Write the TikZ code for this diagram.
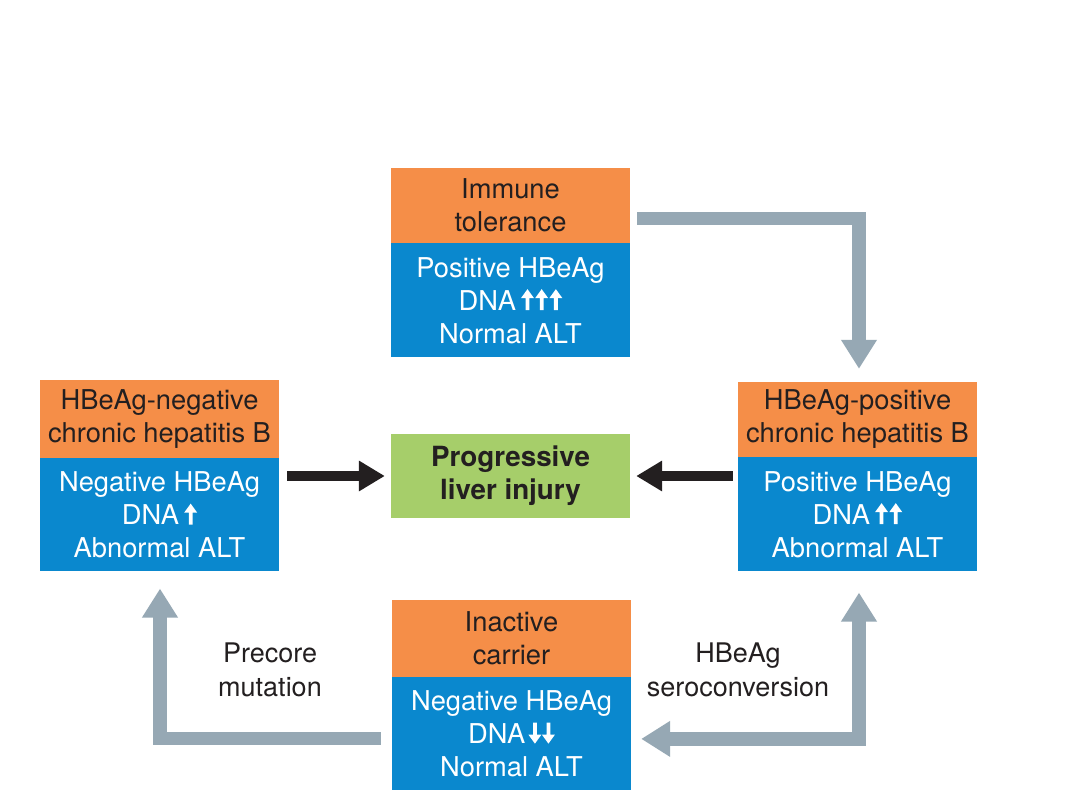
\documentclass[tikz,border=0pt]{standalone}
\usepackage{fontspec}
\setmainfont{TeX Gyre Heros}
\usetikzlibrary{arrows.meta,calc}
\definecolor{hdr}{RGB}{245,142,72}
\definecolor{bdy}{RGB}{10,136,206}
\definecolor{grn}{RGB}{166,206,106}
\definecolor{gry}{RGB}{150,168,180}
\definecolor{ink}{RGB}{35,31,32}
\newcommand{\upA}{\tikz[baseline=0pt,x=1pt,y=1pt]\fill[white] (-1.9,0) -- (-1.9,12) -- (-6.5,12) -- (0,21) -- (6.5,12) -- (1.9,12) -- (1.9,0) -- cycle;}
\newcommand{\dnA}{\tikz[baseline=0pt,x=1pt,y=1pt]\fill[white] (-1.9,21) -- (-1.9,9) -- (-6.5,9) -- (0,0) -- (6.5,9) -- (1.9,9) -- (1.9,21) -- cycle;}
\tikzset{
  basebox/.style={inner sep=0pt, minimum width=239pt, align=center, font=\fontsize{27.3}{33}\selectfont},
  hdrbox/.style={basebox, fill=hdr, text=ink},
  bdybox/.style={basebox, fill=bdy, text=white},
  grnbox/.style={basebox, fill=grn, text=ink, font=\fontsize{27.8}{33}\selectfont\bfseries},
  lbl/.style={align=center, text=ink, font=\fontsize{27}{34}\selectfont},
  grayarrow/.style={draw=gry, line width=13.5pt, line join=miter, line cap=butt, -{Triangle[width=34pt,length=29pt]}},
  grayboth/.style={draw=gry, line width=13.5pt, line join=miter, line cap=butt, {Triangle[width=34pt,length=29pt]}-{Triangle[width=34pt,length=29pt]}},
  blkarrow/.style={draw=ink, line width=10pt, -{Triangle[width=29pt,length=26pt]}}
}
\begin{document}
\begin{tikzpicture}[x=1pt,y=-1pt]
\useasboundingbox[fill=white] (0,0) rectangle (1080,810);
% top box
\node[hdrbox, minimum height=75pt] (thead) at (510.5,205.5) {Immune\\tolerance};
\node[bdybox, minimum height=114pt, anchor=north] (tbody) at (thead.south) {Positive HBeAg\\DNA\kern5pt\upA\kern1.2pt\upA\kern1.2pt\upA\\Normal ALT};
% left box
\node[hdrbox, minimum height=78pt] (lhead) at (159.5,419) {HBeAg-negative\\chronic hepatitis B};
\node[bdybox, minimum height=113pt, anchor=north] (lbody) at (lhead.south) {Negative HBeAg\\DNA\kern5pt\upA\\Abnormal ALT};
% right box
\node[hdrbox, minimum height=75pt] (rhead) at (857.5,419.5) {HBeAg-positive\\chronic hepatitis B};
\node[bdybox, minimum height=114pt, anchor=north] (rbody) at (rhead.south) {Positive HBeAg\\DNA\kern5pt\upA\kern1.2pt\upA\\Abnormal ALT};
% bottom box
\node[hdrbox, minimum height=77pt] (bhead) at (511.5,638.5) {Inactive\\carrier};
\node[bdybox, minimum height=113pt, anchor=north] (bbody) at (bhead.south) {Negative HBeAg\\DNA\kern3pt\dnA\kern0.5pt\dnA\\Normal ALT};
% center
\node[grnbox, minimum height=84pt] (green) at (510.5,476) {Progressive\\liver injury};
% labels
\node[lbl] (precore) at (270,670) {Precore\\mutation};
\node[lbl] (sero) at (738,670) {HBeAg\\seroconversion};
% black arrows
\draw[blkarrow, shorten <=8pt, shorten >=6pt] (green.west -| lhead.east) -- (green.west);
\draw[blkarrow, shorten <=5pt, shorten >=6pt] (green.east -| rhead.west) -- (green.east);
% gray arrows
\draw[grayarrow] ($(thead.north east)+(7,50.5)$) -| ($(rhead.north)+(1.5,-13)$);
\draw[grayarrow] ($(bbody.west)+(-11,4.5)$) -| ($(lbody.south)+(0.5,17)$);
\draw[grayboth] ($(rbody.south)+(1.5,21)$) |- ($(bbody.east)+(10,5)$);
\end{tikzpicture}
\end{document}
